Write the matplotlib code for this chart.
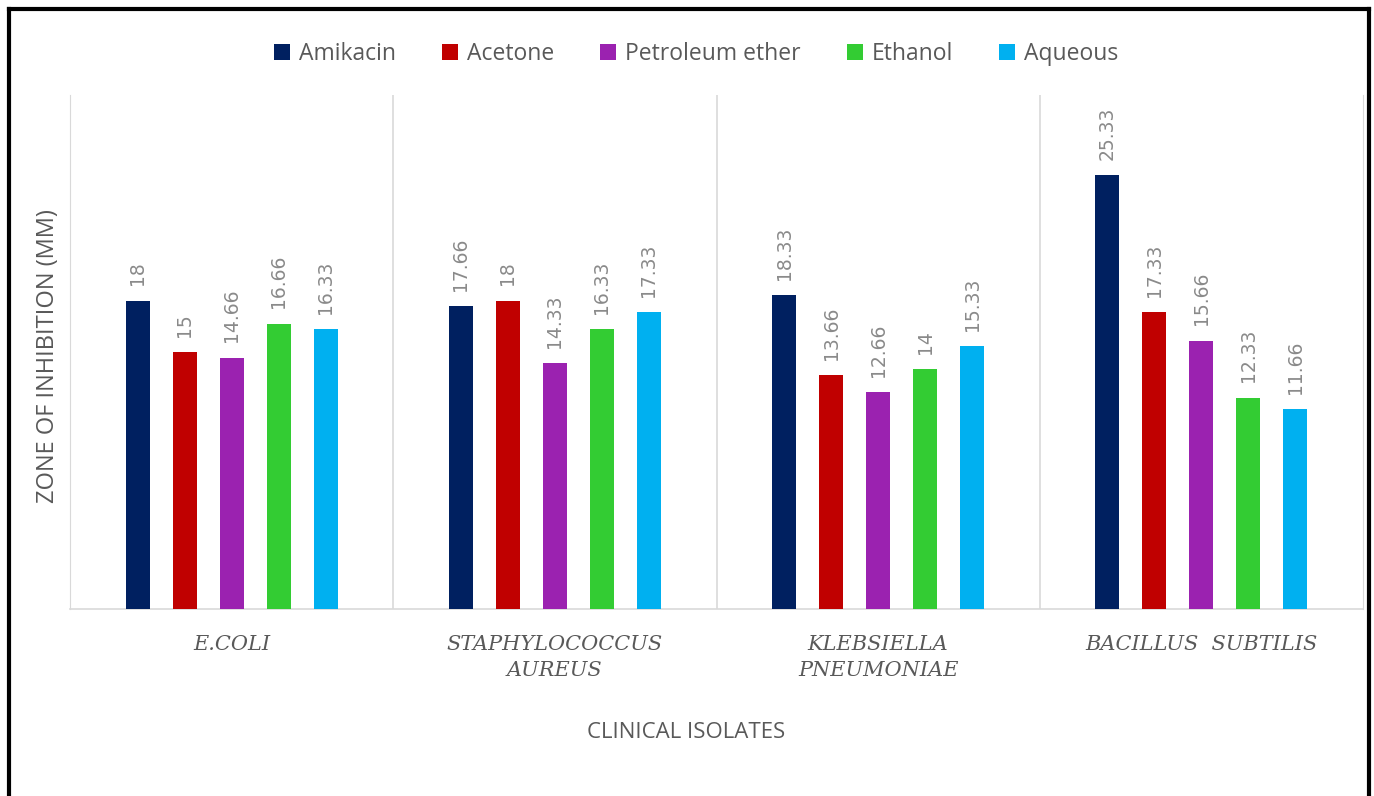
import matplotlib.pyplot as plt
import numpy as np
from matplotlib.lines import Line2D

# Data
isolates = ['E.COLI', 'STAPHYLOCOCCUS\nAUREUS', 'KLEBSIELLA\nPNEUMONIAE', 'BACILLUS  SUBTILIS']
series = ['Amikacin', 'Acetone', 'Petroleum ether', 'Ethanol', 'Aqueous']
amikacin = [18, 17.66, 18.33, 25.33]
acetone = [15, 18, 13.66, 17.33]
pet_ether = [14.66, 14.33, 12.66, 15.66]
ethanol = [16.66, 16.33, 14, 12.33]
aqueous = [16.33, 17.33, 15.33, 11.66]
labels = [['18', '17.66', '18.33', '25.33'],
          ['15', '18', '13.66', '17.33'],
          ['14.66', '14.33', '12.66', '15.66'],
          ['16.66', '16.33', '14', '12.33'],
          ['16.33', '17.33', '15.33', '11.66']]

colors = ['#002060', '#C00000', '#9B22B0', '#33CC33', '#00B0F0']
values = [amikacin, acetone, pet_ether, ethanol, aqueous]

fig = plt.figure(figsize=(13.74, 7.96), dpi=100)
ax = fig.add_axes([70 / 1374, 1 - 609 / 796, (1363 - 70) / 1374, (609 - 95) / 796])

x = np.arange(len(isolates))
width = 0.074
step = 0.1455
for i, (vals, c, name) in enumerate(zip(values, colors, series)):
    pos = x + (i - 2) * step
    ax.bar(pos, vals, width, color=c, label=name, zorder=3)
    for p, v, t in zip(pos, vals, labels[i]):
        ax.text(p, v + 0.9, t, rotation=90, ha='center', va='bottom',
                fontsize=13.5, color='#8a8a8a', family='DejaVu Sans')

ax.set_xlim(-0.5, len(isolates) - 0.5)
ax.set_ylim(0, 30)
ax.set_yticks([])
ax.set_xticks(x)
ax.set_xticklabels(isolates, fontsize=15, style='italic', color='#595959',
                   family='DejaVu Serif', linespacing=1.45)
ax.tick_params(axis='x', length=0, pad=19)
for b in [0.5, 1.5, 2.5]:
    ax.axvline(b, color='#d9d9d9', lw=1.2, zorder=1)
ax.spines['top'].set_visible(False)
ax.spines['left'].set_color('#d9d9d9')
ax.spines['right'].set_color('#d9d9d9')
ax.spines['bottom'].set_color('#d9d9d9')
ax.spines['bottom'].set_linewidth(1.2)

ax.set_xlabel('CLINICAL ISOLATES', fontsize=16, color='#595959', labelpad=36,
              family='Open Sans')
ax.xaxis.set_label_coords((686 - 70) / 1293, -(733 - 609) / 514)
ax.xaxis.label.set_va('center')
fig.text(48 / 1374, 1 - 356 / 796, 'ZONE OF INHIBITION (MM)', rotation=90,
         ha='center', va='center', fontsize=17, color='#595959', family='Open Sans')

fig.legend(loc='center', bbox_to_anchor=(696 / 1374, 1 - 54 / 796), ncol=5,
           frameon=False, handlelength=0.7, handleheight=0.7,
           handletextpad=0.4, columnspacing=2.0, labelcolor='#595959',
           prop={'family': 'Open Sans', 'size': 16.5})

# outer border (left, top, right)
fig.add_artist(Line2D([9 / 1374, 9 / 1374], [0, 1 - 9 / 796], color='black', lw=3))
fig.add_artist(Line2D([9 / 1374, 1369 / 1374], [1 - 9 / 796, 1 - 9 / 796], color='black', lw=3))
fig.add_artist(Line2D([1369 / 1374, 1369 / 1374], [0, 1 - 9 / 796], color='black', lw=3))

fig.savefig('out.png', dpi=100)
